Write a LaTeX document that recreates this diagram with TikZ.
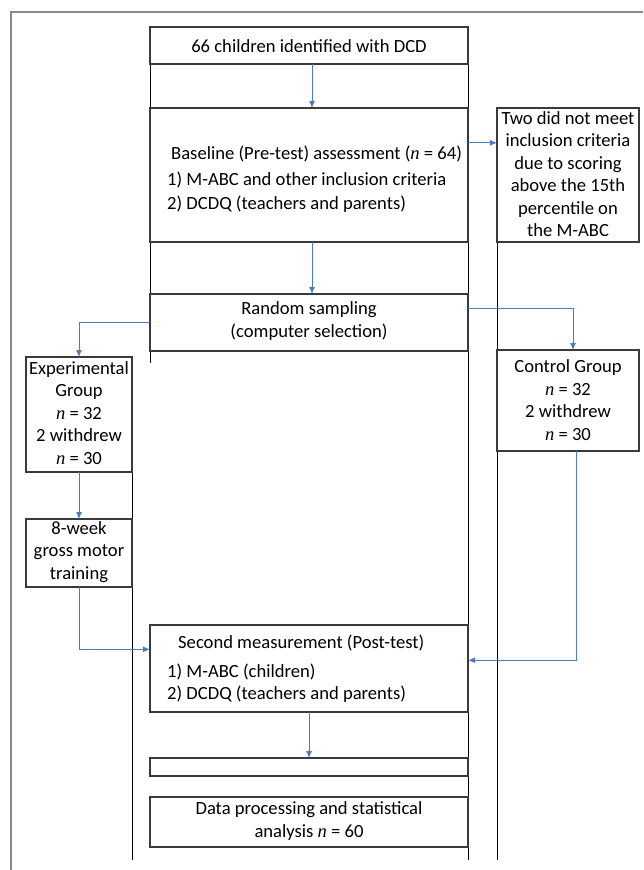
\documentclass[tikz,border=0pt]{standalone}
\usepackage{fontspec}
\setmainfont{Carlito}
\newfontfamily\serifit{Liberation Serif}
\newcommand{\myn}{{\serifit\itshape n}}
\usetikzlibrary{arrows.meta,calc}
\definecolor{arrblue}{HTML}{4A7EBB}
\definecolor{boxgray}{HTML}{3A3A3A}
\definecolor{framegray}{HTML}{8A8A8A}
\begin{document}
\begin{tikzpicture}[x=1pt,y=-1pt,
  box/.style={draw=boxgray,line width=1.3pt,inner sep=0pt,outer sep=0pt},
  txt/.style={inner sep=0pt,font=\fontsize{18.6}{22.5}\selectfont,align=center},
  ltxt/.style={inner sep=0pt,font=\fontsize{18.6}{22.5}\selectfont,anchor=base west},
  arr/.style={draw=arrblue,line width=1pt,-{Latex[length=7pt,width=6pt]}},
  rulel/.style={draw=black,line width=0.9pt},
  framel/.style={draw=framegray,line width=1.3pt},
]
\useasboundingbox (0,0) rectangle (643,870);

% table rules and frame
\draw[framel] (11,870) -- (11,12) -- (643,12);
\draw[rulel] (150,27) -- (150,363);
\draw[rulel] (468,27) -- (468,860);
\draw[rulel] (497,108) -- (497,860);
\draw[rulel] (132,357) -- (132,860);

% boxes
\node[box, minimum width=318pt, minimum height=37pt]  (b1) at (309,45.5) {};
\node[box, minimum width=318pt, minimum height=134pt] (b2) at (309,175) {};
\node[box, minimum width=142pt, minimum height=134pt] (ex) at (568,175) {};
\node[box, minimum width=318pt, minimum height=57pt]  (rs) at (309,322.5) {};
\node[box, minimum width=106pt, minimum height=115pt] (eg) at (79,414.5) {};
\node[box, minimum width=142pt, minimum height=101pt] (cg) at (568,400.5) {};
\node[box, minimum width=106pt, minimum height=68pt]  (tr) at (79,553) {};
\node[box, minimum width=318pt, minimum height=87pt]  (sm) at (309,668.5) {};
\node[box, minimum width=318pt, minimum height=18pt]  (eb) at (309,767) {};
\node[box, minimum width=318pt, minimum height=50pt]  (dp) at (309,822) {};

% texts
\node[txt] (t1) at (309,46) {66 children identified with DCD};
\node[ltxt] (t2a) at (171,159) {Baseline (Pre-test) assessment (\myn{} = 64)};
\node[ltxt] (t2b) at (167,185) {1) M-ABC and other inclusion criteria};
\node[ltxt] (t2c) at (167,209) {2) DCDQ (teachers and parents)};
\node[txt] (t3) at (568,174) {Two did not meet\\inclusion criteria\\due to scoring\\above the 15th\\percentile on\\the M-ABC};
\node[txt] (t4) at (309,321) {Random sampling\\(computer selection)};
\node[txt] (t5) at (79,413) {Experimental\\Group\\\myn{} = 32\\2 withdrew\\\myn{} = 30};
\node[txt] (t6) at (568,400) {Control Group\\\myn{} = 32\\2 withdrew\\\myn{} = 30};
\node[txt] (t7) at (79,552) {8-week\\gross motor\\training};
\node[ltxt] (t8a) at (178,648) {Second measurement (Post-test)};
\node[ltxt] (t8b) at (167,677) {1) M-ABC (children)};
\node[ltxt] (t8c) at (167,699) {2) DCDQ (teachers and parents)};
\node[txt] (t9) at (309,821) {Data processing and statistical\\analysis \myn{} = 60};

% connectors
\draw[arr] ($(b1.south)+(3,0)$) -- ($(b2.north)+(3,0)$);
\coordinate (p1) at ($(b2.north east)!0.26!(b2.south east)$);
\draw[arr] (p1) -- (p1 -| ex.west);
\draw[arr] ($(b2.south)+(3,0)$) -- ($(rs.north)+(3,0)$);
\draw[arr] (rs.west) -| (eg.north);
\coordinate (p2) at ($(rs.north east)!0.25!(rs.south east)$);
\draw[arr] (p2) -| ($(cg.north)+(5,0)$);
\draw[arr] (eg.south) -- (tr.north);
\coordinate (p3) at ($(sm.north west)!0.28!(sm.south west)$);
\draw[arr] (tr.south) |- (p3);
\coordinate (p4) at ($(sm.north east)!0.405!(sm.south east)$);
\draw[arr] ($(cg.south)+(8,0)$) |- (p4);
\draw[arr] (sm.south) -- (eb.north);
\end{tikzpicture}
\end{document}
